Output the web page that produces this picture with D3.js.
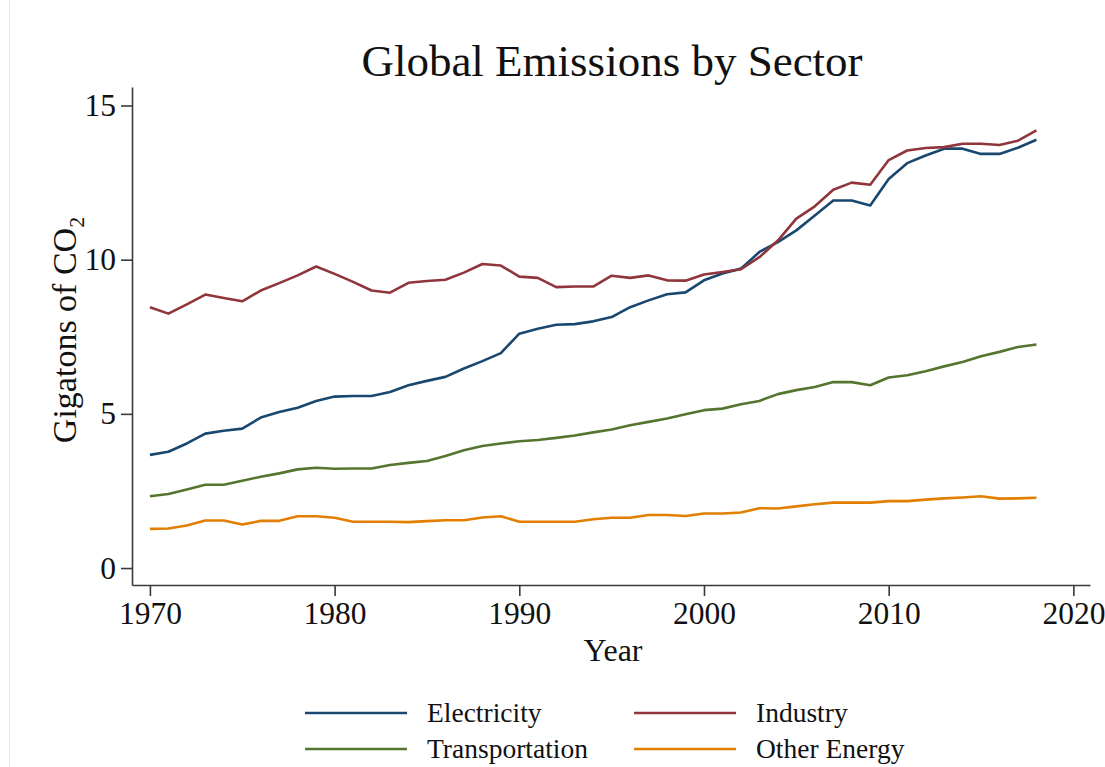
<!DOCTYPE html>
<html>
<head>
<meta charset="utf-8">
<script src="https://cdn.jsdelivr.net/npm/d3@7"></script>
<style>
  html, body { margin: 0; padding: 0; background: #fff; }
  svg { display: block; }
  text { font-family: "Liberation Serif", "Times New Roman", serif; fill: #111; }
</style>
</head>
<body>
<svg id="chart" width="1105" height="767"></svg>
<script>
// Global CO2 emissions by sector, gigatons per year
const years = d3.range(1970, 2019);

const electricity = [
  3.67, 3.77, 4.04, 4.36, 4.45, 4.52, 4.88, 5.06, 5.20, 5.42,
  5.56, 5.58, 5.58, 5.71, 5.93, 6.07, 6.20, 6.47, 6.71, 6.97,
  7.60, 7.76, 7.89, 7.91, 8.00, 8.14, 8.46, 8.68, 8.88, 8.94,
  9.33, 9.55, 9.71, 10.25, 10.57, 10.95, 11.43, 11.92, 11.92, 11.76,
  12.62, 13.13, 13.38, 13.60, 13.60, 13.43, 13.43, 13.63, 13.89
];

const industry = [
  8.46, 8.25, 8.55, 8.87, 8.76, 8.65, 9.00, 9.24, 9.49, 9.78,
  9.54, 9.28, 9.00, 8.93, 9.25, 9.31, 9.35, 9.58, 9.86, 9.81,
  9.45, 9.41, 9.11, 9.13, 9.13, 9.48, 9.41, 9.49, 9.33, 9.32,
  9.52, 9.60, 9.69, 10.08, 10.62, 11.33, 11.73, 12.27, 12.50, 12.43,
  13.23, 13.54, 13.62, 13.65, 13.76, 13.76, 13.72, 13.86, 14.19
];

const transportation = [
  2.33, 2.40, 2.55, 2.70, 2.70, 2.83, 2.96, 3.07, 3.20, 3.25,
  3.22, 3.23, 3.23, 3.34, 3.41, 3.47, 3.63, 3.82, 3.96, 4.04,
  4.11, 4.15, 4.22, 4.30, 4.40, 4.49, 4.63, 4.74, 4.85, 4.99,
  5.12, 5.17, 5.31, 5.42, 5.64, 5.77, 5.87, 6.03, 6.03, 5.93,
  6.18, 6.25, 6.38, 6.54, 6.68, 6.87, 7.01, 7.17, 7.25
];

const otherEnergy = [
  1.27, 1.28, 1.38, 1.54, 1.54, 1.41, 1.53, 1.53, 1.68, 1.68,
  1.63, 1.50, 1.50, 1.50, 1.49, 1.52, 1.55, 1.55, 1.64, 1.68,
  1.50, 1.50, 1.50, 1.50, 1.58, 1.63, 1.63, 1.72, 1.72, 1.69,
  1.77, 1.77, 1.80, 1.94, 1.93, 2.00, 2.07, 2.12, 2.12, 2.12,
  2.17, 2.17, 2.22, 2.26, 2.29, 2.33, 2.25, 2.26, 2.28
];

const seriesNames = ["Electricity", "Industry", "Transportation", "Other Energy"];
const seriesValues = [electricity, industry, transportation, otherEnergy];
const seriesColors = ["#1a476f", "#90353b", "#55752f", "#e37e00"];

const xTickValues = [1970, 1980, 1990, 2000, 2010, 2020];
const yTickValues = [0, 5, 10, 15];

const svg = d3.select("#chart");

// faint frame edge on the left
svg.append("line")
  .attr("x1", 9.5).attr("x2", 9.5).attr("y1", 0).attr("y2", 767)
  .attr("stroke", "#e6e6e6").attr("stroke-width", 1);

const x = d3.scaleLinear().domain([1969.03, 2020.9]).range([132, 1090]);
const y = d3.scaleLinear().domain([-0.55, 15.6]).range([585, 87]);

// axes
const xAxis = svg.append("g")
  .attr("transform", `translate(0,${y(-0.55)})`)
  .call(d3.axisBottom(x).tickValues(xTickValues).tickFormat(d3.format("d"))
    .tickSize(11).tickSizeOuter(0).tickPadding(6));

const yAxis = svg.append("g")
  .attr("transform", `translate(${x(1969.03)},0)`)
  .call(d3.axisLeft(y).tickValues(yTickValues).tickFormat(d3.format("d"))
    .tickSize(11).tickSizeOuter(0).tickPadding(5));

[xAxis, yAxis].forEach(g => {
  g.select(".domain").attr("stroke", "#3a3a3a").attr("stroke-width", 1.6);
  g.selectAll(".tick line").attr("stroke", "#3a3a3a").attr("stroke-width", 1.6);
  g.selectAll(".tick text")
    .attr("font-family", "'Liberation Serif', 'Times New Roman', serif")
    .attr("font-size", 31.5).attr("fill", "#111");
});

// lines
const line = d3.line()
  .x((d, i) => x(years[i]))
  .y(d => y(d));

svg.append("g").selectAll("path")
  .data(seriesValues)
  .join("path")
  .attr("d", d => line(d))
  .attr("fill", "none")
  .attr("stroke", (d, i) => seriesColors[i])
  .attr("stroke-width", 2.6)
  .attr("stroke-linejoin", "round");

// title
svg.append("text")
  .attr("x", 612).attr("y", 76)
  .attr("text-anchor", "middle")
  .attr("font-size", 45)
  .text("Global Emissions by Sector");

// x-axis title
svg.append("text")
  .attr("x", 613).attr("y", 661)
  .attr("text-anchor", "middle")
  .attr("font-size", 32)
  .text("Year");

// y-axis title with subscript
const yTitle = svg.append("text")
  .attr("transform", "translate(76,330) rotate(-90)")
  .attr("text-anchor", "middle")
  .attr("font-size", 34);
yTitle.append("tspan").text("Gigatons of CO");
yTitle.append("tspan").attr("font-size", 22).attr("dy", 8).text("2");

// legend
const legendCols = [305, 634];
const legendRows = [713, 749];
const legend = svg.append("g").selectAll("g")
  .data(seriesNames)
  .join("g")
  .attr("transform", (d, i) => `translate(${legendCols[i % 2]},${legendRows[Math.floor(i / 2)]})`);

legend.append("line")
  .attr("x1", 0).attr("x2", 102).attr("y1", 0).attr("y2", 0)
  .attr("stroke", (d, i) => seriesColors[i])
  .attr("stroke-width", 2.6);

legend.append("text")
  .attr("x", 122).attr("y", 9)
  .attr("font-size", 27.5)
  .text(d => d);
</script>
</body>
</html>
